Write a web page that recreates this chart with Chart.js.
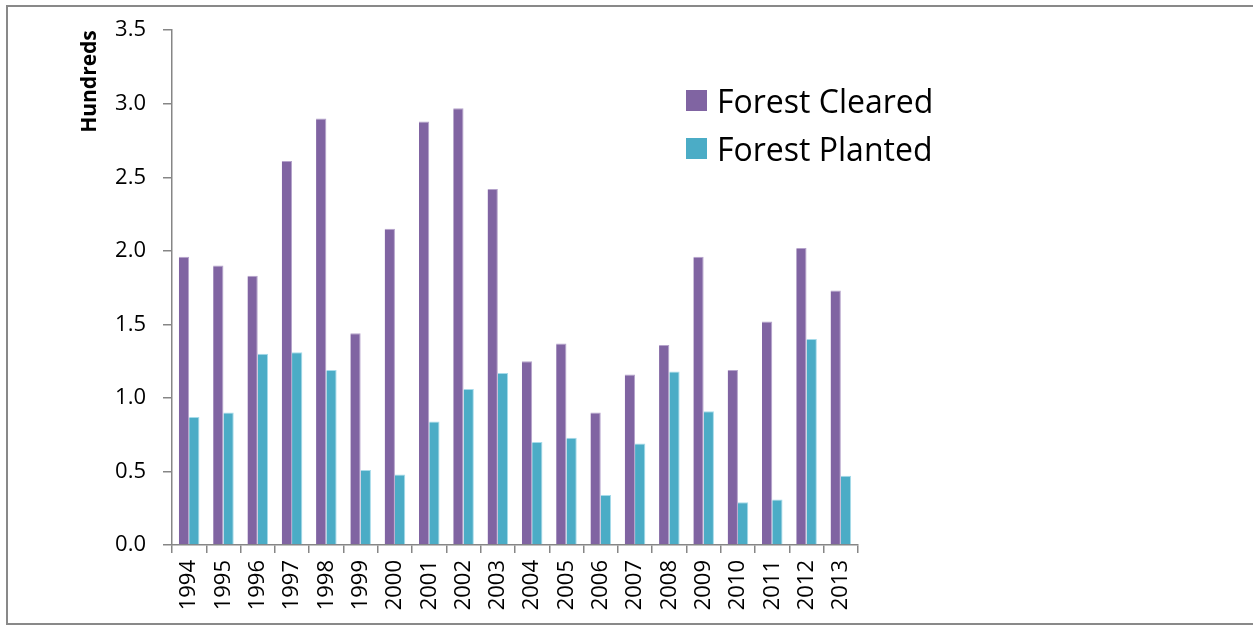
<!DOCTYPE html>
<html>
<head>
<meta charset="utf-8">
<script src="https://cdn.jsdelivr.net/npm/chart.js@4/dist/chart.umd.min.js"></script>
<style>
  html, body { margin: 0; padding: 0; background: #fff; }
  #frame { position: absolute; left: 6px; top: 5px; width: 1247px; height: 616px;
           border-left: 2px solid #898989; border-top: 2px solid #898989; border-bottom: 2px solid #898989; }
  #wrap { position: absolute; left: 0; top: 0; width: 1253px; height: 631px; }
  #legend { position: absolute; left: 686px; top: 76px; font-family: "Open Sans", sans-serif; font-size: 32px; color: #000; }
  .item { display: flex; align-items: center; height: 48px; }
  .sw { width: 21px; height: 21px; margin-right: 10px; }
</style>
</head>
<body>
<div id="frame"></div>
<div id="wrap"><canvas id="c" width="1253" height="631"></canvas></div>
<div id="legend"></div>
<script>
const categories = ["1994","1995","1996","1997","1998","1999","2000","2001","2002","2003","2004","2005","2006","2007","2008","2009","2010","2011","2012","2013"];
const forestCleared = [1.96,1.90,1.83,2.61,2.90,1.44,2.15,2.88,2.97,2.42,1.25,1.37,0.90,1.16,1.36,1.96,1.19,1.52,2.02,1.73];
const forestPlanted = [0.87,0.90,1.30,1.31,1.19,0.51,0.48,0.84,1.06,1.17,0.70,0.73,0.34,0.69,1.18,0.91,0.29,0.31,1.40,0.47];
const yTicks = [0.0,0.5,1.0,1.5,2.0,2.5,3.0,3.5];
const seriesNames = ["Forest Cleared","Forest Planted"];
const colors = ["#8064A2","#4BACC6"];
const borders = ["#B5A3CB","#A6DBEA"];

const axisColor = "#868686";
const font = { family: "'Open Sans', sans-serif", size: 22 };

const chart = new Chart(document.getElementById('c'), {
  type: 'bar',
  data: {
    labels: categories,
    datasets: [
      { label: seriesNames[0], data: forestCleared, backgroundColor: colors[0], borderColor: borders[0], borderWidth: {top:1,left:0,right:1,bottom:0} },
      { label: seriesNames[1], data: forestPlanted, backgroundColor: colors[1], borderColor: borders[1], borderWidth: {top:1,left:0,right:1,bottom:0} }
    ]
  },
  options: {
    responsive: false,
    animation: false,
    events: [],
    layout: { padding: { left: 10, right: 395, top: 28, bottom: 0 } },
    datasets: { bar: { categoryPercentage: 0.6, barPercentage: 1.0 } },
    plugins: { legend: { display: false }, tooltip: { enabled: false } },
    scales: {
      x: {
        grid: { offset: true, drawOnChartArea: false, drawTicks: true, tickLength: 8, color: axisColor, lineWidth: 1.5 },
        border: { color: axisColor, width: 1.5 },
        ticks: { font: font, color: '#000', minRotation: 90, maxRotation: 90, padding: 7, autoSkip: false },
        afterFit: (s) => { s.height = 631 - 545; }
      },
      y: {
        min: 0, max: 3.5,
        afterBuildTicks: (s) => { s.ticks = yTicks.map(v => ({ value: v })); },
        grid: { drawOnChartArea: false, drawTicks: true, tickLength: 9, color: axisColor, lineWidth: 1.5 },
        border: { color: axisColor, width: 1.5 },
        ticks: { font: font, color: '#000', padding: 17, callback: (v) => Number(v).toFixed(1) },
        title: { display: true, text: 'Hundreds', align: 'end', color: '#000',
                 font: { family: "'Open Sans', sans-serif", size: 21, weight: 'bold' },
                 padding: { top: 67, bottom: 0 } },
        afterFit: (s) => { s.width = 172 - 10; }
      }
    }
  }
});

const lg = document.getElementById('legend');
chart.data.datasets.forEach((ds, i) => {
  const it = document.createElement('div'); it.className = 'item';
  const sw = document.createElement('div'); sw.className = 'sw'; sw.style.background = colors[i];
  const tx = document.createElement('span'); tx.textContent = ds.label;
  it.appendChild(sw); it.appendChild(tx); lg.appendChild(it);
});
</script>
</body>
</html>
